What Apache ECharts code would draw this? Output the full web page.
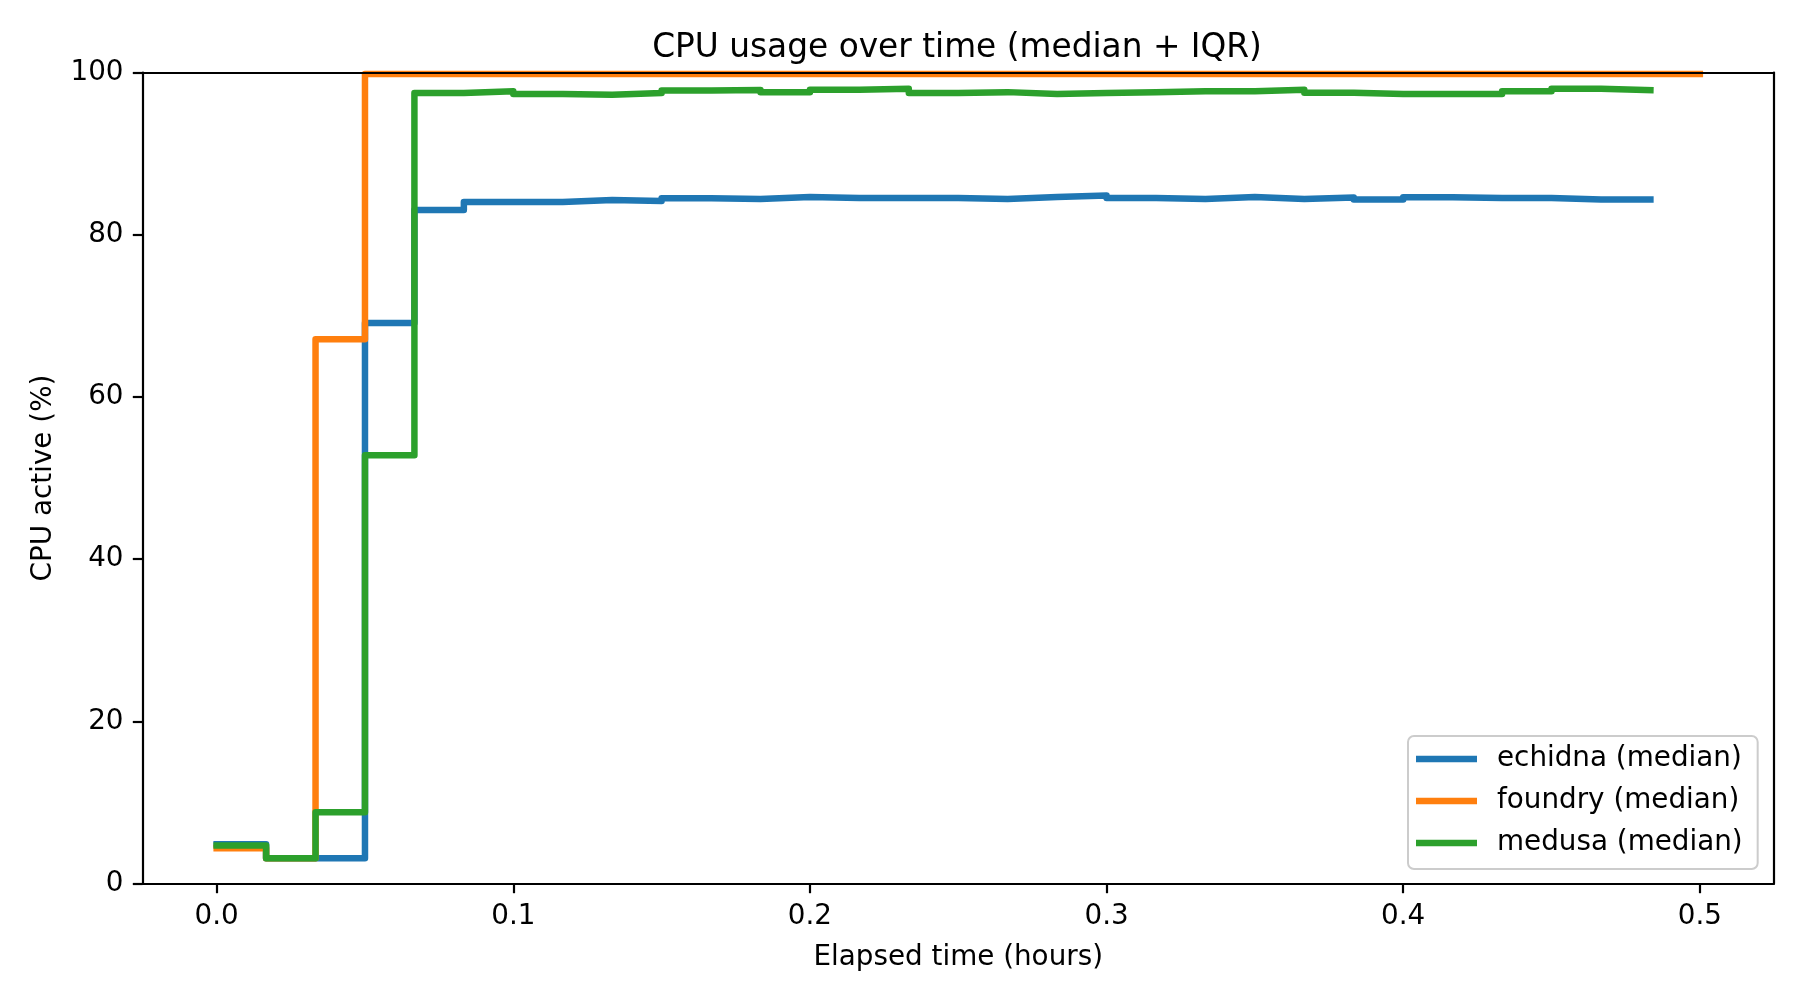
<!DOCTYPE html>
<html>
<head>
<meta charset="utf-8">
<script src="https://cdn.jsdelivr.net/npm/echarts@6/dist/echarts.min.js"></script>
<style>
html,body{margin:0;padding:0;background:#fff;}
#chart{width:1800px;height:1000px;}
</style>
</head>
<body>
<div id="chart"></div>
<script>
// Elapsed time (hours), one sample per minute
const timeHours = [0, 0.016667, 0.033333, 0.05, 0.066667, 0.083333, 0.1, 0.116667, 0.133333, 0.15,
  0.166667, 0.183333, 0.2, 0.216667, 0.233333, 0.25, 0.266667, 0.283333, 0.3, 0.316667,
  0.333333, 0.35, 0.366667, 0.383333, 0.4, 0.416667, 0.433333, 0.45, 0.466667, 0.483333, 0.5];

const seriesNames = ['echidna (median)', 'foundry (median)', 'medusa (median)'];

const echidna = [4.85, 3.1, 3.1, 69.1, 83.05, 84.04, 84.04, 84.28, 84.16, 84.49,
  84.41, 84.65, 84.53, 84.53, 84.53, 84.41, 84.65, 84.82, 84.53, 84.41,
  84.65, 84.41, 84.6, 84.33, 84.61, 84.53, 84.53, 84.33, 84.33, 84.33];

const foundry = [4.35, 3.1, 67.1, 99.8, 99.8, 99.8, 99.8, 99.8, 99.8, 99.8,
  99.8, 99.8, 99.8, 99.8, 99.8, 99.8, 99.8, 99.8, 99.8, 99.8,
  99.8, 99.8, 99.8, 99.8, 99.8, 99.8, 99.8, 99.8, 99.8, 99.8, 99.8];

const medusa = [4.7, 3.1, 8.8, 52.8, 97.46, 97.7, 97.34, 97.26, 97.46, 97.79,
  97.83, 97.58, 97.87, 97.99, 97.46, 97.58, 97.34, 97.46, 97.58, 97.7,
  97.7, 97.87, 97.5, 97.34, 97.34, 97.34, 97.7, 97.99, 97.83, 97.83];

const xTicks = [0, 0.1, 0.2, 0.3, 0.4, 0.5];
const yTicks = [0, 20, 40, 60, 80, 100];

const colors = ['#1f77b4', '#ff7f0e', '#2ca02c'];
const FONT = 'DejaVu Sans';

function pairs(vals) { return vals.map((v, i) => [timeHours[i], v]); }

const seriesData = [echidna, foundry, medusa];

const chart = echarts.init(document.getElementById('chart'), null, {renderer: 'canvas'});

const axisLineStyle = {color: '#000', width: 2.2};

const option = {
  backgroundColor: '#fff',
  animation: false,
  title: {
    text: 'CPU usage over time (median + IQR)',
    left: 952, top: 27, textAlign: 'center',
    textStyle: {fontFamily: FONT, fontSize: 32.8, fontWeight: 'normal', color: '#000'}
  },
  grid: {left: 142.5, right: 26, top: 72.5, bottom: 116.5, containLabel: false},
  legend: {
    orient: 'vertical', left: 1408, top: 736,
    padding: [9, 15, 12, 8],
    itemWidth: 61, itemHeight: 6.5, itemGap: 14, icon: 'rect',
    textStyle: {fontFamily: FONT, fontSize: 27.8, color: '#000', lineHeight: 28, padding: [0, 0, 0, 15]},
    backgroundColor: 'rgba(255,255,255,0.8)',
    borderColor: '#cccccc', borderWidth: 2, borderRadius: 6,
    data: seriesNames
  },
  xAxis: [{
    type: 'value', min: -0.025, max: 0.525, position: 'bottom', z: 10,
    axisLine: {show: true, onZero: false, lineStyle: axisLineStyle},
    axisTick: {show: true, inside: false, length: 9.7, lineStyle: axisLineStyle, customValues: xTicks},
    axisLabel: {customValues: xTicks, formatter: v => v.toFixed(1), margin: 19,
      fontFamily: FONT, fontSize: 27.8, color: '#000'},
    splitLine: {show: false},
    name: 'Elapsed time (hours)', nameLocation: 'middle', nameGap: 60,
    nameTextStyle: {fontFamily: FONT, fontSize: 27.8, color: '#000'}
  }, {
    type: 'value', min: -0.025, max: 0.525, position: 'top', z: 10,
    axisLine: {show: true, onZero: false, lineStyle: axisLineStyle},
    axisTick: {show: false}, axisLabel: {show: false}, splitLine: {show: false}
  }],
  yAxis: [{
    type: 'value', min: 0, max: 100, interval: 20, position: 'left', z: 10,
    axisLine: {show: true, onZero: false, lineStyle: axisLineStyle},
    axisTick: {show: true, inside: false, length: 9.7, lineStyle: axisLineStyle, customValues: yTicks},
    axisLabel: {customValues: yTicks, margin: 19, fontFamily: FONT, fontSize: 27.8, color: '#000'},
    splitLine: {show: false},
    name: 'CPU active (%)', nameLocation: 'middle', nameGap: 85, nameRotate: 90,
    nameTextStyle: {fontFamily: FONT, fontSize: 27.8, color: '#000'}
  }, {
    type: 'value', min: 0, max: 100, interval: 20, position: 'right', z: 10,
    axisLine: {show: true, onZero: false, lineStyle: axisLineStyle},
    axisTick: {show: false}, axisLabel: {show: false}, splitLine: {show: false}
  }],
  series: seriesNames.map((name, i) => ({
    name: name, type: 'line', step: 'end', showSymbol: false, symbol: 'none',
    xAxisIndex: 0, yAxisIndex: 0, clip: true, z: 2 + i,
    color: colors[i],
    itemStyle: {color: colors[i]},
    lineStyle: {color: colors[i], width: 6.5, join: 'round', cap: 'square'},
    data: pairs(seriesData[i])
  }))
};

chart.setOption(option);
</script>
</body>
</html>
